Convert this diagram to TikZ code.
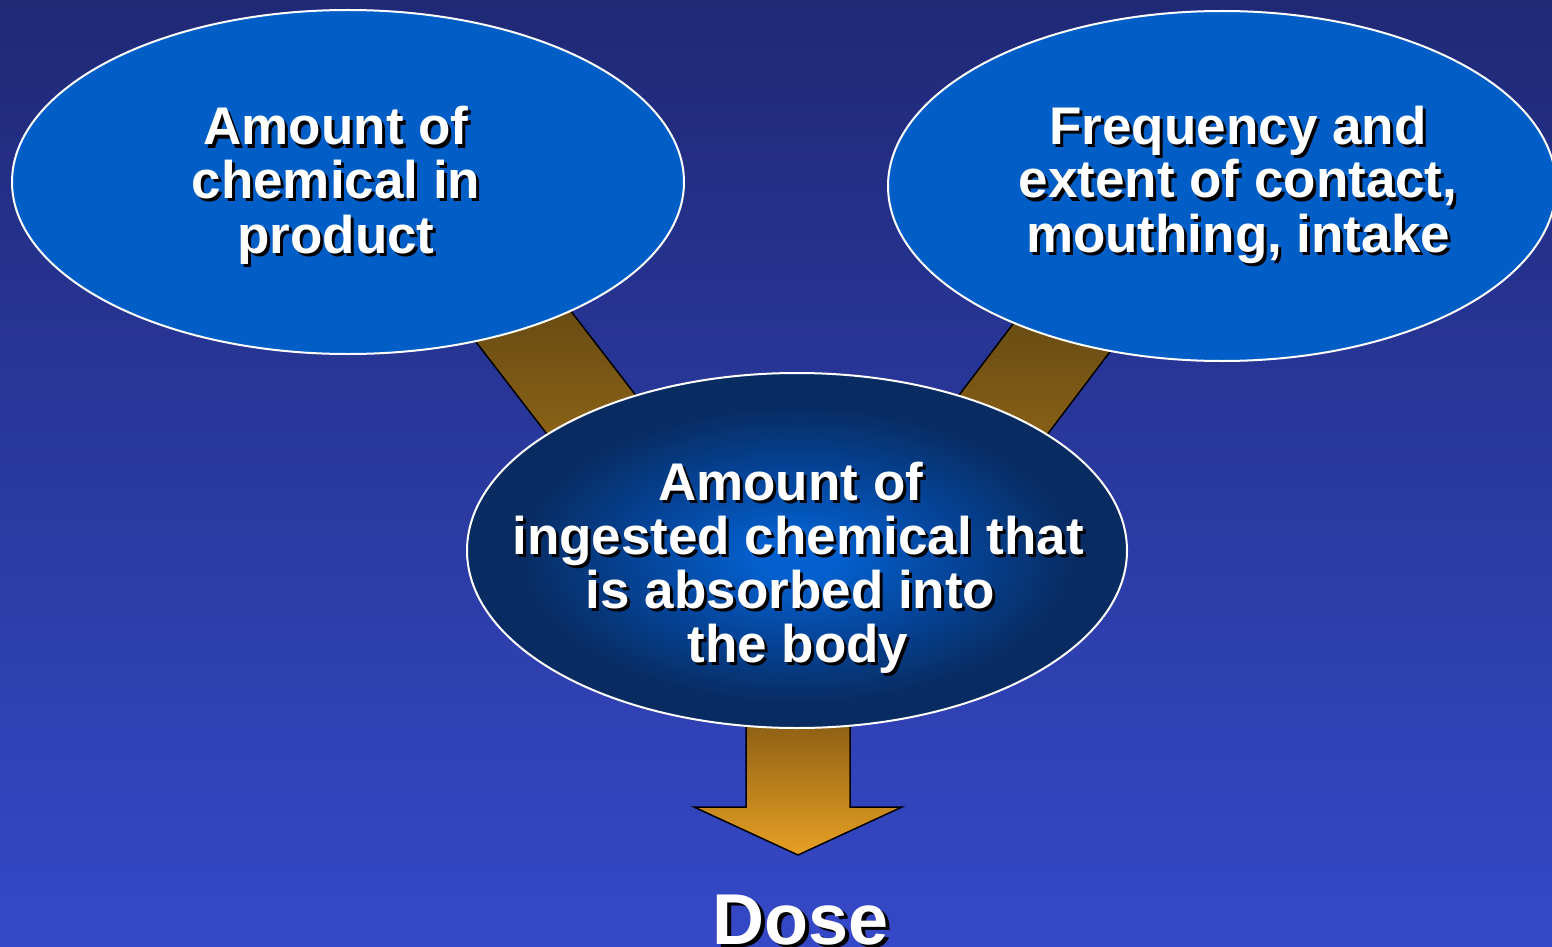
\documentclass[tikz,border=0pt]{standalone}
\usepackage{fontspec}
\setmainfont{Liberation Sans}
\usetikzlibrary{shapes.geometric,calc}
\definecolor{bgtop}{RGB}{31,41,118}
\definecolor{bgbot}{RGB}{53,73,200}
\definecolor{ellblue}{RGB}{0,94,198}
\definecolor{ctrA}{RGB}{4,96,206}
\definecolor{ctrB}{RGB}{5,68,152}
\definecolor{ctrC}{RGB}{8,44,98}
\definecolor{barTop}{RGB}{70,54,16}
\definecolor{barBot}{RGB}{170,118,25}
\definecolor{arrTop}{RGB}{125,85,18}
\definecolor{arrBot}{RGB}{232,160,36}
\pgfdeclareradialshading{ctrshade}{\pgfpoint{0bp}{-1bp}}{color(0bp)=(ctrA); color(3bp)=(ctrA); color(12bp)=(ctrB); color(21bp)=(ctrC); color(50bp)=(ctrC)}
\newcommand\linestack[1]{\vtop{\baselineskip=54pt\lineskiplimit=-1000pt\lineskip=0pt\halign{\hfil##\hfil\cr#1\crcr}}}
\tikzset{
  ell/.style={ellipse, draw=white, line width=2, inner sep=0},
  bar/.style={draw=black, line width=1.5, top color=barTop, bottom color=barBot},
  downarrow/.style={draw=black, line width=1.5, top color=arrTop, bottom color=arrBot},
  lbl/.style={text=white, inner sep=0, anchor=base, font=\fontsize{53}{54}\selectfont\bfseries},
  lblsh/.style={lbl, text=black},
  doselbl/.style={lbl, font=\fontsize{72}{72}\selectfont\bfseries},
  doselblsh/.style={doselbl, text=black}
}
\begin{document}
\begin{tikzpicture}[x=1pt,y=-1pt,line join=miter]
\useasboundingbox (0,0) rectangle (1552,947);
\fill[top color=bgtop, bottom color=bgbot] (0,0) rectangle (1552,947);

% connector bars
\coordinate (la) at (433,209);
\coordinate (lb) at (677,526);
\draw[bar] ($(la)+(37.3,-28.6)$) -- ($(la)+(-37.3,28.6)$) -- ($(lb)+(-37.3,28.6)$) -- ($(lb)+(37.3,-28.6)$) -- cycle;
\coordinate (ra) at (1151.6,218.9);
\coordinate (rb) at (910,537.8);
\draw[bar] ($(ra)+(37.5,28.4)$) -- ($(ra)+(-37.5,-28.4)$) -- ($(rb)+(-37.5,-28.4)$) -- ($(rb)+(37.5,28.4)$) -- cycle;

% down arrow
\coordinate (ds) at (798,700);
\coordinate (dt) at (798,855);
\draw[downarrow] ($(ds)+(-52,0)$) -- ($(ds)+(-52,107)$) -- ($(ds)+(-104,107)$) -- (dt) -- ($(ds)+(104,107)$) -- ($(ds)+(52,107)$) -- ($(ds)+(52,0)$) -- cycle;

% ellipses
\node[ell, fill=ellblue, minimum width=672, minimum height=344] (L) at (348,182) {};
\node[ell, fill=ellblue, minimum width=668, minimum height=350] (R) at (1222,186) {};
\node[ell, shading=ctrshade, minimum width=660, minimum height=355] (C) at (797,550.5) {};

% texts
\node[lblsh] (tLs) at (339,148) {\linestack{Amount of\cr chemical in\cr product}};
\node[lbl] (tL) at (336,145) {\linestack{Amount of\cr chemical in\cr product}};
\node[lblsh] (tRs) at (1241,147) {\linestack{Frequency and\cr extent of contact,\cr mouthing, intake}};
\node[lbl] (tR) at (1238,144) {\linestack{Frequency and\cr extent of contact,\cr mouthing, intake}};
\node[lblsh] (tCs) at (801,503) {\linestack{Amount of\ \cr ingested chemical that\cr is absorbed into\ \cr the body}};
\node[lbl] (tC) at (798,500) {\linestack{Amount of\ \cr ingested chemical that\cr is absorbed into\ \cr the body}};
\node[doselblsh] (doses) at (804.5,947.5) {Dose};
\node[doselbl] (dose) at (801,944) {Dose};
\end{tikzpicture}
\end{document}
